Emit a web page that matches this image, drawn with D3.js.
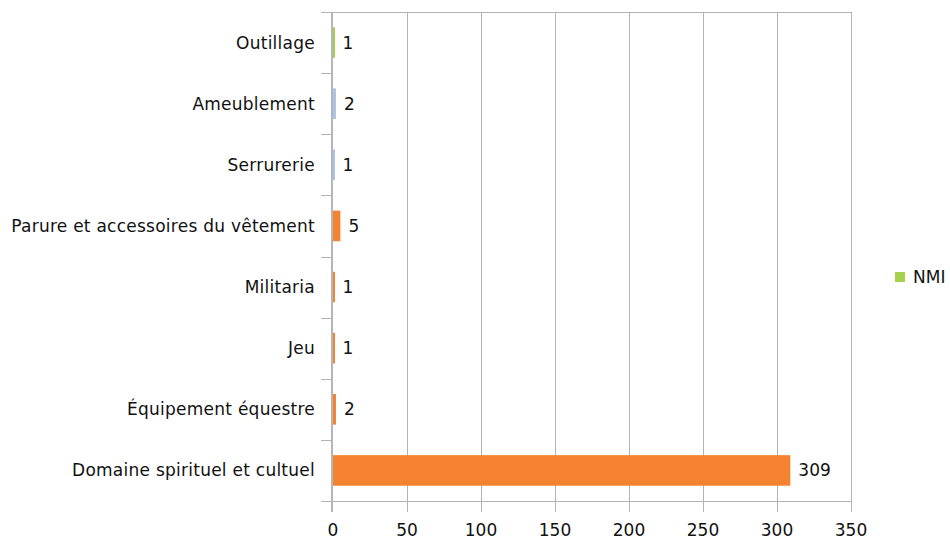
<!DOCTYPE html>
<html><head><meta charset="utf-8">
<script src="https://cdn.jsdelivr.net/npm/d3@7"></script>
<style>body{margin:0;background:#fff}svg{display:block}text{font-family:"DejaVu Sans",sans-serif;fill:#111}</style>
</head><body><svg id="c" width="950" height="540"></svg>
<script>
const categories = ["Outillage","Ameublement","Serrurerie","Parure et accessoires du vêtement","Militaria","Jeu","Équipement équestre","Domaine spirituel et cultuel"];
const values = [1,2,1,5,1,1,2,309];
const groups = ["green","blue","blue","orange","orange","orange","orange","orange"];
const xTicks = [0,50,100,150,200,250,300,350];
const legendLabels = ["NMI"];
const colors = {orange:"#f5822f", blue:"#a9c5e3", green:"#a8d04f"};

const svg = d3.select("#c");
const L = 333, R = 851, T = 12, B = 501;
const FS = 17;
const x = d3.scaleLinear().domain([0,350]).range([L,R]);
const y = d3.scaleBand().domain(categories).range([T,B]).paddingInner(0.5).paddingOuter(0.25);
const yb = d3.scaleBand().domain(categories).range([T,B]);

svg.append("g").selectAll("line").data(xTicks.slice(1)).join("line")
  .attr("x1", d=>Math.round(x(d))+0.5).attr("x2", d=>Math.round(x(d))+0.5).attr("y1", T).attr("y2", B+11)
  .attr("stroke", "#b3b3b3").attr("stroke-width", 1);
svg.append("line").attr("x1", L-12).attr("x2", R).attr("y1", T+0.5).attr("y2", T+0.5)
  .attr("stroke", "#b3b3b3");
svg.append("line").attr("x1", L-12).attr("x2", R).attr("y1", B+0.5).attr("y2", B+0.5)
  .attr("stroke", "#b3b3b3");
svg.append("g").selectAll("line").data(categories).join("line")
  .attr("x1", L-12).attr("x2", L).attr("y1", d=>Math.round(yb(d))+0.5).attr("y2", d=>Math.round(yb(d))+0.5)
  .attr("stroke", "#b3b3b3");

svg.append("line").attr("x1", L-1).attr("x2", L-1).attr("y1", T).attr("y2", B+11)
  .attr("stroke", "#b4b4bc").attr("stroke-width", 2);

svg.append("g").selectAll("rect").data(categories).join("rect")
  .attr("x", x(0)).attr("y", d=>y(d)).attr("height", y.bandwidth())
  .attr("width", (d,i)=>Math.max(2, x(values[i])-x(0)))
  .attr("fill", (d,i)=>colors[groups[i]]);

svg.append("g").selectAll("text").data(categories).join("text")
  .attr("x", 315).attr("y", d=>yb(d)+yb.bandwidth()/2).attr("dy","0.35em")
  .attr("text-anchor","end").attr("font-size", FS).attr("letter-spacing", 0.25).text(d=>d);

svg.append("g").selectAll("text").data(categories).join("text")
  .attr("x", (d,i)=>x(values[i])+8).attr("y", d=>yb(d)+yb.bandwidth()/2).attr("dy","0.35em")
  .attr("font-size", FS).text((d,i)=>values[i]);

svg.append("g").selectAll("text").data(xTicks).join("text")
  .attr("x", d=>x(d)).attr("y", 530).attr("dy","0.35em").attr("text-anchor","middle")
  .attr("font-size", FS).text(d=>d);

const lg = svg.append("g").attr("transform","translate(895,272)");
lg.append("rect").attr("width",10).attr("height",10).attr("fill",colors.green);
lg.append("text").attr("x",18).attr("y",5).attr("dy","0.35em").attr("font-size",FS).text(legendLabels[0]);
</script></body></html>
